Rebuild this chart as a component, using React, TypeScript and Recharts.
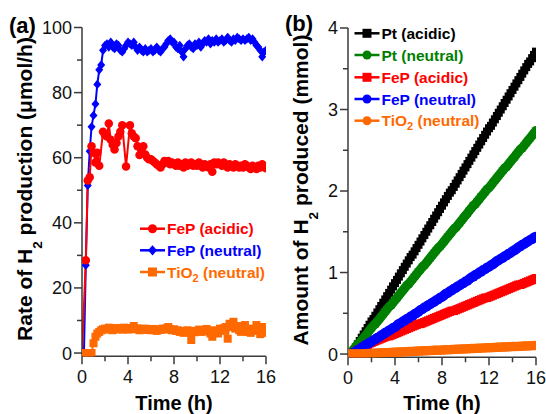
import React from 'react';
import { LineChart, Line, XAxis, YAxis } from 'recharts';

const FONT = '"Liberation Sans", Arial, Helvetica, sans-serif';
const AXIS = '#3a3a3a';

const C_RED = '#FF0000';
const C_BLUE = '#0000FF';
const C_ORANGE = '#FF6A00';
const C_GREEN = '#008000';
const C_BLACK = '#000000';

// sampling times (h)
const timesH = [
  0, 0.17, 0.33, 0.5, 0.67, 0.83, 1, 1.17, 1.33, 1.5, 1.67, 1.83,
  2, 2.17, 2.33, 2.5, 2.67, 2.83, 3, 3.17, 3.33, 3.5, 3.67, 3.83,
  4, 4.17, 4.33, 4.5, 4.67, 4.83, 5, 5.17, 5.33, 5.5, 5.67, 5.83,
  6, 6.17, 6.33, 6.5, 6.67, 6.83, 7, 7.17, 7.33, 7.5, 7.67, 7.83,
  8, 8.17, 8.33, 8.5, 8.67, 8.83, 9, 9.17, 9.33, 9.5, 9.67, 9.83,
  10, 10.17, 10.33, 10.5, 10.67, 10.83, 11, 11.17, 11.33, 11.5, 11.67, 11.83,
  12, 12.17, 12.33, 12.5, 12.67, 12.83, 13, 13.17, 13.33, 13.5, 13.67, 13.83,
  14, 14.17, 14.33, 14.5, 14.67, 14.83, 15, 15.17, 15.33, 15.5, 15.67, 15.83,
  16,
];

// (a) rate of H2 production (umol/h)
const fepAcidicRate = [
  0, null, 28.5, 53, 54, 63.5, 61.5, 58.5, 61.5, 57.5, null, 68,
  67, 66.5, 70.5, 65.5, 64, 62.5, 64.5, 66.5, 68, 70, null, 57.3,
  null, 70, 67.5, 66.5, 66, 63.5, 60.8, 62.5, 63.5, 61, 60, 59.5,
  59.5, 59, 58.5, 58, 57.5, 57, 58, 59, 58.5, 59, 58, 58.5,
  58, 57.5, 58.5, 57.5, 58, 57, 58.5, 57.5, 58, 58.5, 57.5, 58,
  57.5, 58.5, 58, 57, 58, 57.5, 57, 58, 55.7, 58.5, 58, 58.5,
  58, 57.5, 58.5, 57.5, 57, 58, 57.5, 57, 58, 57.5, 57, 57.5,
  57, 58, 57.5, 57, 56.5, 57.5, 57, 56.5, 57.5, 57, 58, 57.5,
  56.8,
];
const fepNeutralRate = [
  0, 0, 27, 51.5, 62, 69.5, 73, 76.5, 82.5, 87, 88.5, 93,
  94.5, 95, 94, 95.5, 94, 93.5, 95, 94.5, 93, 92.5, 93.5, 94.5,
  95.5, 95, 94.5, 95.5, 94, 93, 94, 93, 92.5, 93.5, 92.5, 93,
  93.5, 92.5, 93, 94, 93, 92.5, 93.5, 94, 95, 96, 96.5, 95.5,
  95.5, 94, 93.5, 94.5, 92.5, 91, 93.5, 94.5, 95, 94, 93.5, 95,
  94.5, 95.5, 94, 95, 96, 95.5, 96.5, 95, 96, 95.5, 96.5, 95.5,
  96, 96.5, 95.5, 96, 97, 96, 95.5, 96.5, 96, 97, 96.5, 96,
  96.5, 96, 96.5, 97, 96, 96.5, 95.5, 94.5, 94, 93, 91, 92.5,
  93,
];
const tio2NeutralRate = [
  0, 0, 0, 0, 0, 0, 3, 5, 6, 6.5, 7, 7.3,
  7.5, 7.2, 7.8, 7.4, 7.0, 7.5, 7.7, 7.3, 7.6, 7.2, 7.8, 7.5,
  7.2, 7.7, 7.5, 8.3, 7.3, 7.6, 7.0, 7.4, 7.2, 7.5, 7.1, 7.3,
  7.0, 7.4, 7.2, 6.8, 7.3, 7.1, 7.5, 7.2, 7.6, 8.0, 7.4, 7.0,
  7.3, 6.8, 7.0, 6.5, 6.8, 6.2, 6.6, 7.0, 6.5, 4.0, 6.8, 6.4,
  6.8, 7.2, 6.5, 7.0, 6.6, 7.4, 6.8, 6.0, 5.0, 7.0, 6.5, 6.0,
  7.5, 6.8, 7.6, 8.0, 4.4, 9.0, 8.0, 9.6, 7.5, 8.3, 7.0, 6.5,
  7.8, 8.6, 6.5, 7.0, 6.2, 7.5, 6.8, 8.6, 7.0, 5.8, 8.0, 6.2,
  6.5,
];

// (b) amount of H2 produced (mmol)
const ptAcidicAmt = [
  0, 0, 0, 0.04, 0.08, 0.12, 0.16, 0.20, 0.24, 0.28, 0.32, 0.36,
  0.40, 0.43, 0.47, 0.51, 0.55, 0.59, 0.63, 0.67, 0.71, 0.75, 0.79, 0.83,
  0.87, 0.91, 0.95, 0.99, 1.03, 1.07, 1.11, 1.15, 1.19, 1.22, 1.26, 1.30,
  1.34, 1.38, 1.42, 1.46, 1.50, 1.54, 1.58, 1.62, 1.66, 1.70, 1.74, 1.78,
  1.82, 1.86, 1.90, 1.94, 1.98, 2.01, 2.05, 2.09, 2.13, 2.17, 2.21, 2.25,
  2.29, 2.33, 2.37, 2.41, 2.45, 2.49, 2.53, 2.57, 2.61, 2.65, 2.69, 2.73,
  2.77, 2.80, 2.84, 2.88, 2.92, 2.96, 3.00, 3.04, 3.08, 3.12, 3.16, 3.20,
  3.24, 3.28, 3.32, 3.36, 3.40, 3.44, 3.48, 3.52, 3.56, 3.59, 3.63, 3.67,
  3.71,
];
const ptNeutralAmt = [
  0, 0, 0.03, 0.06, 0.09, 0.12, 0.14, 0.17, 0.20, 0.23, 0.26, 0.29,
  0.32, 0.35, 0.37, 0.40, 0.43, 0.46, 0.49, 0.52, 0.55, 0.58, 0.60, 0.63,
  0.66, 0.69, 0.72, 0.75, 0.78, 0.81, 0.84, 0.86, 0.89, 0.92, 0.95, 0.98,
  1.01, 1.04, 1.07, 1.09, 1.12, 1.15, 1.18, 1.21, 1.24, 1.27, 1.30, 1.32,
  1.35, 1.38, 1.41, 1.44, 1.47, 1.50, 1.53, 1.55, 1.58, 1.61, 1.64, 1.67,
  1.70, 1.73, 1.76, 1.79, 1.82, 1.84, 1.87, 1.90, 1.93, 1.96, 1.99, 2.02,
  2.04, 2.07, 2.10, 2.13, 2.16, 2.19, 2.22, 2.25, 2.28, 2.30, 2.33, 2.36,
  2.39, 2.42, 2.45, 2.48, 2.51, 2.53, 2.56, 2.59, 2.62, 2.65, 2.68, 2.71,
  2.74,
];
const fepAcidicAmt = [
  0, 0, 0, 0.01, 0.03, 0.04, 0.06, 0.07, 0.08, 0.10, 0.11, 0.13,
  0.14, 0.15, 0.16, 0.17, 0.18, 0.19, 0.20, 0.21, 0.22, 0.22, 0.23, 0.24,
  0.25, 0.26, 0.27, 0.28, 0.29, 0.30, 0.31, 0.32, 0.33, 0.34, 0.35, 0.36,
  0.37, 0.37, 0.38, 0.39, 0.40, 0.41, 0.42, 0.43, 0.44, 0.45, 0.46, 0.47,
  0.48, 0.49, 0.50, 0.51, 0.52, 0.53, 0.53, 0.54, 0.55, 0.56, 0.57, 0.58,
  0.59, 0.60, 0.61, 0.62, 0.63, 0.64, 0.65, 0.66, 0.67, 0.68, 0.69, 0.69,
  0.70, 0.71, 0.72, 0.73, 0.74, 0.75, 0.76, 0.77, 0.78, 0.79, 0.80, 0.81,
  0.82, 0.83, 0.84, 0.85, 0.85, 0.86, 0.87, 0.88, 0.89, 0.90, 0.91, 0.92,
  0.93,
];
const fepNeutralAmt = [
  0, 0, 0, 0.02, 0.03, 0.05, 0.06, 0.08, 0.09, 0.11, 0.12, 0.14,
  0.15, 0.17, 0.18, 0.20, 0.21, 0.23, 0.24, 0.26, 0.27, 0.29, 0.30, 0.32,
  0.33, 0.35, 0.37, 0.38, 0.40, 0.41, 0.43, 0.44, 0.46, 0.47, 0.49, 0.50,
  0.52, 0.54, 0.55, 0.57, 0.58, 0.60, 0.61, 0.63, 0.64, 0.66, 0.67, 0.69,
  0.70, 0.72, 0.74, 0.75, 0.77, 0.78, 0.80, 0.81, 0.83, 0.84, 0.86, 0.87,
  0.89, 0.90, 0.92, 0.94, 0.95, 0.97, 0.98, 1.00, 1.01, 1.03, 1.04, 1.06,
  1.07, 1.09, 1.10, 1.12, 1.14, 1.15, 1.17, 1.18, 1.20, 1.21, 1.23, 1.24,
  1.26, 1.27, 1.29, 1.31, 1.32, 1.34, 1.35, 1.37, 1.38, 1.40, 1.41, 1.43,
  1.44,
];
const tio2NeutralAmt = [
  0, 0, 0, 0, 0, 0, 0.001, 0.002, 0.003, 0.005, 0.006, 0.007,
  0.008, 0.009, 0.010, 0.012, 0.013, 0.014, 0.015, 0.016, 0.017, 0.018, 0.020, 0.021,
  0.022, 0.023, 0.024, 0.025, 0.026, 0.028, 0.029, 0.030, 0.031, 0.032, 0.033, 0.035,
  0.036, 0.037, 0.038, 0.039, 0.040, 0.041, 0.043, 0.044, 0.045, 0.046, 0.047, 0.048,
  0.049, 0.051, 0.052, 0.053, 0.054, 0.055, 0.056, 0.058, 0.059, 0.060, 0.061, 0.062,
  0.063, 0.064, 0.066, 0.067, 0.068, 0.069, 0.070, 0.071, 0.072, 0.074, 0.075, 0.076,
  0.077, 0.078, 0.079, 0.081, 0.082, 0.083, 0.084, 0.085, 0.086, 0.087, 0.089, 0.090,
  0.091, 0.092, 0.093, 0.094, 0.095, 0.097, 0.098, 0.099, 0.100, 0.101, 0.102, 0.104,
  0.105,
];

const xTicks = [0, 2, 4, 6, 8, 10, 12, 14, 16];
const xMajor = [0, 4, 8, 12, 16];
const yTicksA = [0, 10, 20, 30, 40, 50, 60, 70, 80, 90, 100];
const yMajorA = [0, 20, 40, 60, 80, 100];
const yTicksB = [0, 0.5, 1, 1.5, 2, 2.5, 3, 3.5, 4];
const yMajorB = [0, 1, 2, 3, 4];

const rateData = timesH.map((t, i) => ({
  t,
  fepA: fepAcidicRate[i],
  fepN: fepNeutralRate[i],
  tio2: tio2NeutralRate[i],
}));
const amtData = timesH.map((t, i) => ({
  t,
  ptA: ptAcidicAmt[i],
  ptN: ptNeutralAmt[i],
  fepA: fepAcidicAmt[i],
  fepN: fepNeutralAmt[i],
  tio2: tio2NeutralAmt[i],
}));

type Shape = 'circle' | 'square' | 'diamond';

function Marker({ shape, cx, cy, size, color }: { shape: Shape; cx: number; cy: number; size: number; color: string }) {
  const h = size / 2;
  if (shape === 'circle') return <circle cx={cx} cy={cy} r={h} fill={color} />;
  if (shape === 'square') return <rect x={cx - h} y={cy - h} width={size} height={size} fill={color} />;
  return (
    <polygon
      points={`${cx},${cy - h * 1.15} ${cx + h},${cy} ${cx},${cy + h * 1.15} ${cx - h},${cy}`}
      fill={color}
    />
  );
}

function makeDot(shape: Shape, color: string, size: number) {
  return (props: any) => {
    const { cx, cy, index, value } = props;
    const key = `dot-${index}`;
    if (cx == null || cy == null || value == null || Number.isNaN(cx) || Number.isNaN(cy)) {
      return <g key={key} />;
    }
    return (
      <g key={key}>
        <Marker shape={shape} cx={cx} cy={cy} size={size} color={color} />
      </g>
    );
  };
}

function YTick(props: any) {
  const { x, y, payload, majors } = props;
  const major = majors.includes(payload.value);
  return (
    <g>
      <line x1={x} x2={x - (major ? 8 : 5)} y1={y} y2={y} stroke={AXIS} strokeWidth={1.5} />
      {major && (
        <text x={x - 10} y={y} dy="0.36em" textAnchor="end" fontSize={18} fontFamily={FONT} fill="#111">
          {String(payload.value)}
        </text>
      )}
    </g>
  );
}

function XTick(props: any) {
  const { x, y, payload } = props;
  const major = xMajor.includes(payload.value);
  return (
    <g>
      <line x1={x} x2={x} y1={y} y2={y + (major ? 8 : 5)} stroke={AXIS} strokeWidth={1.5} />
      {major && (
        <text x={x} y={y + 14} dy="0.71em" textAnchor="middle" fontSize={18} fontFamily={FONT} fill="#111">
          {String(payload.value)}
        </text>
      )}
    </g>
  );
}

function LegendRow({ x, y, shape, color, label, sub, rest }: any) {
  return (
    <g>
      <line x1={x} x2={x + 25} y1={y} y2={y} stroke={color} strokeWidth={2.5} />
      <Marker shape={shape} cx={x + 12.5} cy={y} size={9} color={color} />
      <text x={x + 27} y={y + 5.5} fontSize={15.5} fontWeight="bold" fontFamily={FONT} fill={color}>
        {label}
        {sub && (
          <>
            <tspan dy={4} fontSize={11}>{sub}</tspan>
            <tspan dy={-4}>{rest}</tspan>
          </>
        )}
      </text>
    </g>
  );
}

export default function App() {
  const axisLine = { stroke: AXIS, strokeWidth: 1.5 };
  return (
    <div style={{ position: 'absolute', left: 0, top: 0, width: 546, height: 414, background: '#fff', fontFamily: FONT }}>
      <style>{`.recharts-surface { overflow: visible; } .recharts-wrapper { overflow: visible; }`}</style>
      <div style={{ position: 'absolute', left: 0, top: 0 }}>
        <LineChart width={273} height={414} data={rateData} margin={{ top: 27.5, right: 7, bottom: 27.7, left: 0 }}>
          <XAxis
            dataKey="t"
            type="number"
            domain={[0, 16]}
            ticks={xTicks}
            allowDataOverflow
            height={30}
            tickSize={0}
            tickMargin={0}
            axisLine={axisLine}
            tickLine={false}
            tick={(p: any) => <XTick {...p} />}
            interval={0}
          />
          <YAxis
            type="number"
            domain={[-1, 100]}
            ticks={yTicksA}
            allowDataOverflow
            width={82}
            tickSize={0}
            tickMargin={0}
            axisLine={axisLine}
            tickLine={false}
            tick={(p: any) => <YTick {...p} majors={yMajorA} />}
            interval={0}
          />
          <Line dataKey="fepN" stroke={C_BLUE} strokeWidth={2} dot={makeDot('diamond', C_BLUE, 8)} isAnimationActive={false} connectNulls />
          <Line dataKey="fepA" stroke={C_RED} strokeWidth={2} dot={makeDot('circle', C_RED, 8.5)} isAnimationActive={false} connectNulls />
          <Line dataKey="tio2" stroke={C_ORANGE} strokeWidth={2} dot={makeDot('square', C_ORANGE, 8)} isAnimationActive={false} connectNulls />
        </LineChart>
      </div>
      <div style={{ position: 'absolute', left: 273, top: 0 }}>
        <LineChart width={273} height={414} data={amtData} margin={{ top: 28, right: 10, bottom: 26.7, left: 0 }}>
          <XAxis
            dataKey="t"
            type="number"
            domain={[0, 16]}
            ticks={xTicks}
            allowDataOverflow
            height={30}
            tickSize={0}
            tickMargin={0}
            axisLine={axisLine}
            tickLine={false}
            tick={(p: any) => <XTick {...p} />}
            interval={0}
          />
          <YAxis
            type="number"
            domain={[-0.04, 4]}
            ticks={yTicksB}
            allowDataOverflow
            width={75}
            tickSize={0}
            tickMargin={0}
            axisLine={axisLine}
            tickLine={false}
            tick={(p: any) => <YTick {...p} majors={yMajorB} />}
            interval={0}
          />
          <Line dataKey="ptA" stroke={C_BLACK} strokeWidth={2} dot={makeDot('square', C_BLACK, 8)} isAnimationActive={false} />
          <Line dataKey="ptN" stroke={C_GREEN} strokeWidth={2} dot={makeDot('circle', C_GREEN, 9.5)} isAnimationActive={false} />
          <Line dataKey="fepA" stroke={C_RED} strokeWidth={2} dot={makeDot('square', C_RED, 8.5)} isAnimationActive={false} />
          <Line dataKey="fepN" stroke={C_BLUE} strokeWidth={2} dot={makeDot('circle', C_BLUE, 10)} isAnimationActive={false} />
          <Line dataKey="tio2" stroke={C_ORANGE} strokeWidth={2} dot={makeDot('circle', C_ORANGE, 9.5)} isAnimationActive={false} />
        </LineChart>
      </div>
      <svg width={546} height={414} style={{ position: 'absolute', left: 0, top: 0, pointerEvents: 'none' }}>
        {/* panel labels */}
        <text x={9} y={33} fontSize={22} fontWeight="bold" fontFamily={FONT} fill="#000">(a)</text>
        <text x={285} y={31} fontSize={22} fontWeight="bold" fontFamily={FONT} fill="#000">(b)</text>

        {/* axis titles */}
        <text x={174} y={409.5} textAnchor="middle" fontSize={20} fontWeight="bold" fontFamily={FONT} fill="#000">Time (h)</text>
        <text x={442} y={409.5} textAnchor="middle" fontSize={20} fontWeight="bold" fontFamily={FONT} fill="#000">Time (h)</text>
        <text
          transform="translate(32,189) rotate(-90)"
          x={0}
          y={0}
          textAnchor="middle"
          fontSize={21}
          fontWeight="bold"
          fontFamily={FONT}
          fill="#000"
        >
          Rate of H<tspan dy={10} fontSize={13.5}>2</tspan><tspan dy={-10}> production (μmol/h)</tspan>
        </text>
        <text
          transform="translate(308,190) rotate(-90)"
          x={0}
          y={0}
          textAnchor="middle"
          fontSize={21}
          fontWeight="bold"
          fontFamily={FONT}
          fill="#000"
        >
          Amount of H<tspan dy={10} fontSize={13.5}>2</tspan><tspan dy={-10}> produced (mmol)</tspan>
        </text>

        {/* legend (a) */}
        <LegendRow x={140} y={228.7} shape="circle" color={C_RED} label="FeP (acidic)" />
        <LegendRow x={140} y={250.3} shape="diamond" color={C_BLUE} label="FeP (neutral)" />
        <LegendRow x={140} y={272} shape="square" color={C_ORANGE} label="TiO" sub="2" rest=" (neutral)" />

        {/* legend (b) */}
        <LegendRow x={354.5} y={33.3} shape="square" color={C_BLACK} label="Pt (acidic)" />
        <LegendRow x={354.5} y={55} shape="circle" color={C_GREEN} label="Pt (neutral)" />
        <LegendRow x={354.5} y={77.3} shape="square" color={C_RED} label="FeP (acidic)" />
        <LegendRow x={354.5} y={99} shape="circle" color={C_BLUE} label="FeP (neutral)" />
        <LegendRow x={354.5} y={120.7} shape="circle" color={C_ORANGE} label="TiO" sub="2" rest=" (neutral)" />
      </svg>
    </div>
  );
}
